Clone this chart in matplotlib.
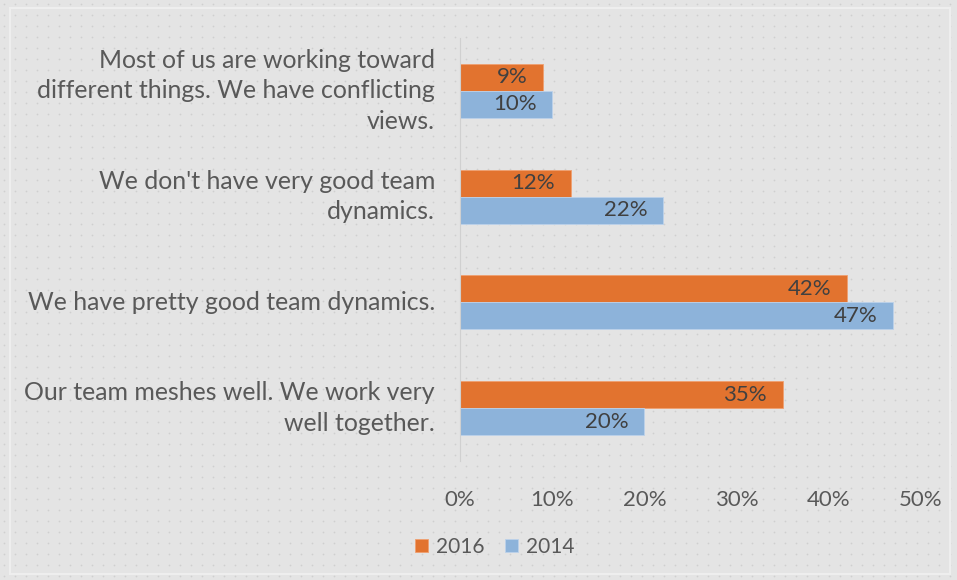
import matplotlib.pyplot as plt
import numpy as np

categories = ["Our team meshes well. We work very\nwell together.",
              "We have pretty good team dynamics.",
              "We don't have very good team\ndynamics.",
              "Most of us are working toward\ndifferent things. We have conflicting\nviews."]
vals_2016 = [35, 42, 12, 9]
vals_2014 = [20, 47, 22, 10]
xticks = [0, 10, 20, 30, 40, 50]

plt.rcParams['font.family'] = ['Lato', 'DejaVu Sans']
text_col = '#595959'
orange = '#E2732F'
blue = '#8DB3DA'

fig = plt.figure(figsize=(9.57, 5.80), dpi=100)
fig.patch.set_facecolor('#e4e4e4')

# dotted background
bg = fig.add_axes([0, 0, 1, 1], zorder=-10)
bg.set_xlim(0, 957)
bg.set_ylim(580, 0)
bg.axis('off')
gx, gy = np.meshgrid(np.arange(4, 957, 11), np.arange(4, 580, 11))
bg.scatter(gx.ravel(), gy.ravel(), s=1.5, c='#cfcfcf', linewidths=0)
bg.add_patch(plt.Rectangle((10, 8), 940, 566, fill=False, edgecolor='#eeeeee', lw=1.5))

ax = fig.add_axes([460/957, 1 - 461/580, (921-460)/957, (461-38)/580])
ax.set_facecolor('none')
y = np.arange(len(categories))
h = 0.256
b16 = ax.barh(y + h/2, vals_2016, height=h, color=orange, edgecolor='#f0a070', lw=0.6, label='2016')
b14 = ax.barh(y - h/2, vals_2014, height=h, color=blue, edgecolor='#bcd2ea', lw=0.6, label='2014')

for bars, vals in ((b16, vals_2016), (b14, vals_2014)):
    for bar, v in zip(bars, vals):
        ax.text(v - 1.7, bar.get_y() + bar.get_height()/2, f"{v}%", ha='right', va='center',
                fontsize=16, color='#404040')

ax.set_xlim(0, 50)
ax.set_ylim(-0.5, 3.5)
ax.set_xticks(xticks)
ax.set_xticklabels([f"{t}%" for t in xticks], fontsize=16, color=text_col)
ax.set_yticks(y)
ax.set_yticklabels([])
# category labels drawn by hand so multi-line ones centre on their group
for yi, cat in zip(y, categories):
    ax.annotate(cat, xy=(0, yi), xycoords=('axes fraction', 'data'),
                xytext=(-18, 0), textcoords='offset points',
                ha='right', va='center', fontsize=17.9, color=text_col, linespacing=1.4)
ax.tick_params(axis='both', length=0)
ax.tick_params(axis='x', pad=21)
for s in ['top', 'right', 'bottom']:
    ax.spines[s].set_visible(False)
ax.spines['left'].set_color('#d0d0d0')

fig.legend(handles=[b16, b14], labels=['2016', '2014'], loc='center', bbox_to_anchor=(495/957, 1 - 547/580),
           ncol=2, frameon=False, fontsize=15, labelcolor=text_col, handlelength=0.6, handleheight=0.6,
           handletextpad=0.4, columnspacing=1.0)

fig.savefig('out.png', dpi=100, facecolor=fig.get_facecolor())
